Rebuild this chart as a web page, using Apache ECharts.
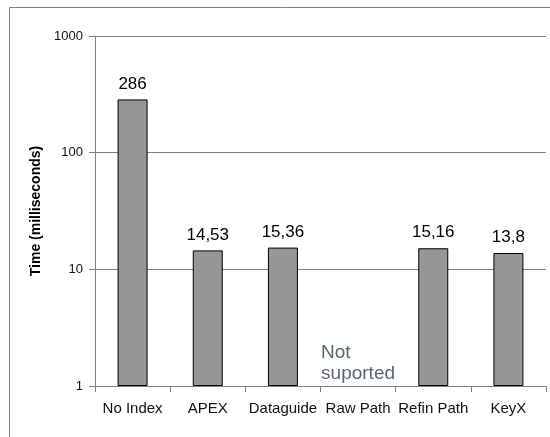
<!DOCTYPE html>
<html>
<head>
<meta charset="utf-8">
<script src="https://cdn.jsdelivr.net/npm/echarts@6/dist/echarts.min.js"></script>
<style>
  html, body { margin: 0; padding: 0; background: #fff; }
  #chart { width: 550px; height: 437px; }
</style>
</head>
<body>
<div id="chart"></div>
<script>
// categories and times (ms), Raw Path is not supported
var categories = ['No Index', 'APEX', 'Dataguide', 'Raw Path', 'Refin Path', 'KeyX'];
var times = [286, 14.53, 15.36, null, 15.16, 13.8];
var yTicks = [1, 10, 100, 1000];

var chart = echarts.init(document.getElementById('chart'));

var option = {
  animation: false,
  backgroundColor: '#fff',
  textStyle: { fontFamily: 'Liberation Sans, Arial, sans-serif' },
  grid: { left: 95, right: 4, top: 36, bottom: 51 },
  xAxis: {
    type: 'category',
    data: categories,
    axisLine: { lineStyle: { color: '#808080', width: 1 } },
    axisTick: { show: true, length: 6, lineStyle: { color: '#808080' } },
    axisLabel: { color: '#111', fontSize: 15, margin: 15, interval: 0 }
  },
  yAxis: {
    type: 'log',
    logBase: 10,
    min: yTicks[0],
    max: yTicks[yTicks.length - 1],
    name: 'Time (milliseconds)',
    nameLocation: 'middle',
    nameGap: 52,
    nameTextStyle: { fontSize: 14, fontWeight: 'bold', color: '#000' },
    axisLine: { show: true, lineStyle: { color: '#808080' } },
    axisTick: { show: true, length: 6, lineStyle: { color: '#808080' } },
    axisLabel: { color: '#111', fontSize: 13, margin: 12, formatter: function (v) { return String(v); } },
    splitLine: { show: true, lineStyle: { color: '#808080', width: 1 } },
    minorTick: { show: false }
  },
  series: [{
    type: 'bar',
    data: times,
    barWidth: 30,
    itemStyle: { color: '#969696', borderColor: '#000', borderWidth: 1 },
    label: {
      show: true,
      position: 'top',
      distance: 7,
      fontSize: 17,
      color: '#000',
      formatter: function (p) { return String(p.value).replace('.', ','); }
    }
  }]
};
chart.setOption(option);

// "Not suported" note in the Raw Path slot, placed from the axis scale
var pos = chart.convertToPixel({ gridIndex: 0 }, ['Raw Path', 1]);
chart.setOption({
  graphic: [
    {
      type: 'rect',
      shape: { x: 9.5, y: 7.5, width: 560, height: 440 },
      style: { fill: 'none', stroke: '#808080', lineWidth: 1 },
      silent: true
    },
    {
      type: 'text',
      x: pos[0] - 37,
      y: pos[1] - 44,
      style: {
        text: 'Not\nsuported',
        font: '19px "Liberation Sans", Arial, sans-serif',
        fill: '#5a6478',
        lineHeight: 21
      }
    }
  ]
});
</script>
</body>
</html>
